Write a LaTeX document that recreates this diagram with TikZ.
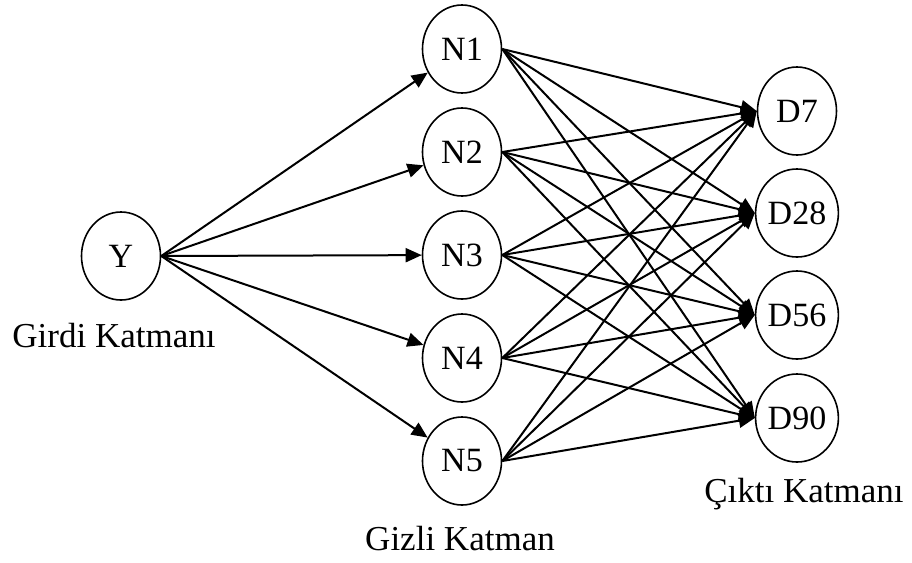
\documentclass[tikz,border=0pt]{standalone}
\usepackage{fontspec}
\setmainfont{Liberation Serif}
\usetikzlibrary{shapes.geometric,arrows.meta,positioning}
\tikzset{
    nnNeuron/.style={
        ellipse,
        draw,
        line width=0.8pt,
        minimum width=39.5pt,
        minimum height=44pt,
        inner sep=0pt,
        font=\fontsize{17}{20}\selectfont
    },
    % Arrows
    nnArrow/.style={-{Triangle[length=8pt,width=7pt]}, line width=1pt},
    nnLabel/.style={anchor=base, font=\fontsize{17.5}{21}\selectfont}
}
\begin{document}
\begin{tikzpicture}[x=0.5pt,y=-0.5pt]
\useasboundingbox (0,0) rectangle (912,563);

% Input layer
\node[nnNeuron] (Y) at (121,256) {Y};
\node[nnLabel] (girdi) at (114,347) {Girdi Katmanı};

% Hidden layer
\foreach \i/\y in {1/49,2/152,3/255,4/358,5/461}
    \node[nnNeuron] (N\i) at (462,\y) {N\i};
\node[nnLabel] (gizli) at (460,550) {Gizli Katman};

% Output layer
\foreach \d/\y in {7/111,28/213,56/315,90/418}
    \node[nnNeuron] (D\d) at (797,\y) {D\d};
\node[nnLabel] (cikti) at (804,502) {Çıktı Katmanı};

% Connections
\foreach \i in {1,...,5}
    \draw[nnArrow] (Y.east) -- (N\i);
\foreach \i in {1,...,5}
    \foreach \d in {7,28,56,90}
        \draw[nnArrow] (N\i.east) -- (D\d.west);
\end{tikzpicture}
\end{document}
